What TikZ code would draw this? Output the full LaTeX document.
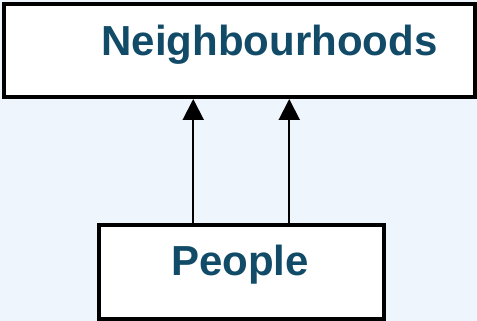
\documentclass[tikz,border=0pt]{standalone}
\usepackage{fontspec}
\setmainfont{Liberation Sans}
\usetikzlibrary{arrows.meta}
\usetikzlibrary{positioning}
\definecolor{bgblue}{HTML}{EEF5FD}
\definecolor{labelblue}{HTML}{124B68}
\tikzset{
x=1pt,y=1pt,
>={Triangle[width=21pt,length=21pt]}, % All arrows with big filled heads
my box/.style={draw,rectangle,fill=white,line width=4pt,inner sep=0pt},
my label/.style={font=\bfseries\fontsize{42}{48}\selectfont,text=labelblue,anchor=base,inner sep=0pt},
my link/.style={->,line width=2pt},
}
\begin{document}
\begin{tikzpicture}
\fill[bgblue] (0,0) rectangle (477,321);
\useasboundingbox (0,0) rectangle (477,321);
\node[my box,minimum width=470.5pt,minimum height=93pt] (hood) at (239.25,270.5) {};
\node[my box,minimum width=284.5pt,minimum height=94pt] (people) at (241.25,49) {};
\node[my label] (hoodtext)   at (269.5,265) {Neighbourhoods};
\node[my label] (peopletext) at (240,45)    {People};

\draw[my link] ([xshift=-48pt]people.north) -- ([xshift=-48pt]people.north |- hood.south);
\draw[my link] ([xshift=48pt]people.north)  -- ([xshift=48pt]people.north |- hood.south);
\end{tikzpicture}
\end{document}
